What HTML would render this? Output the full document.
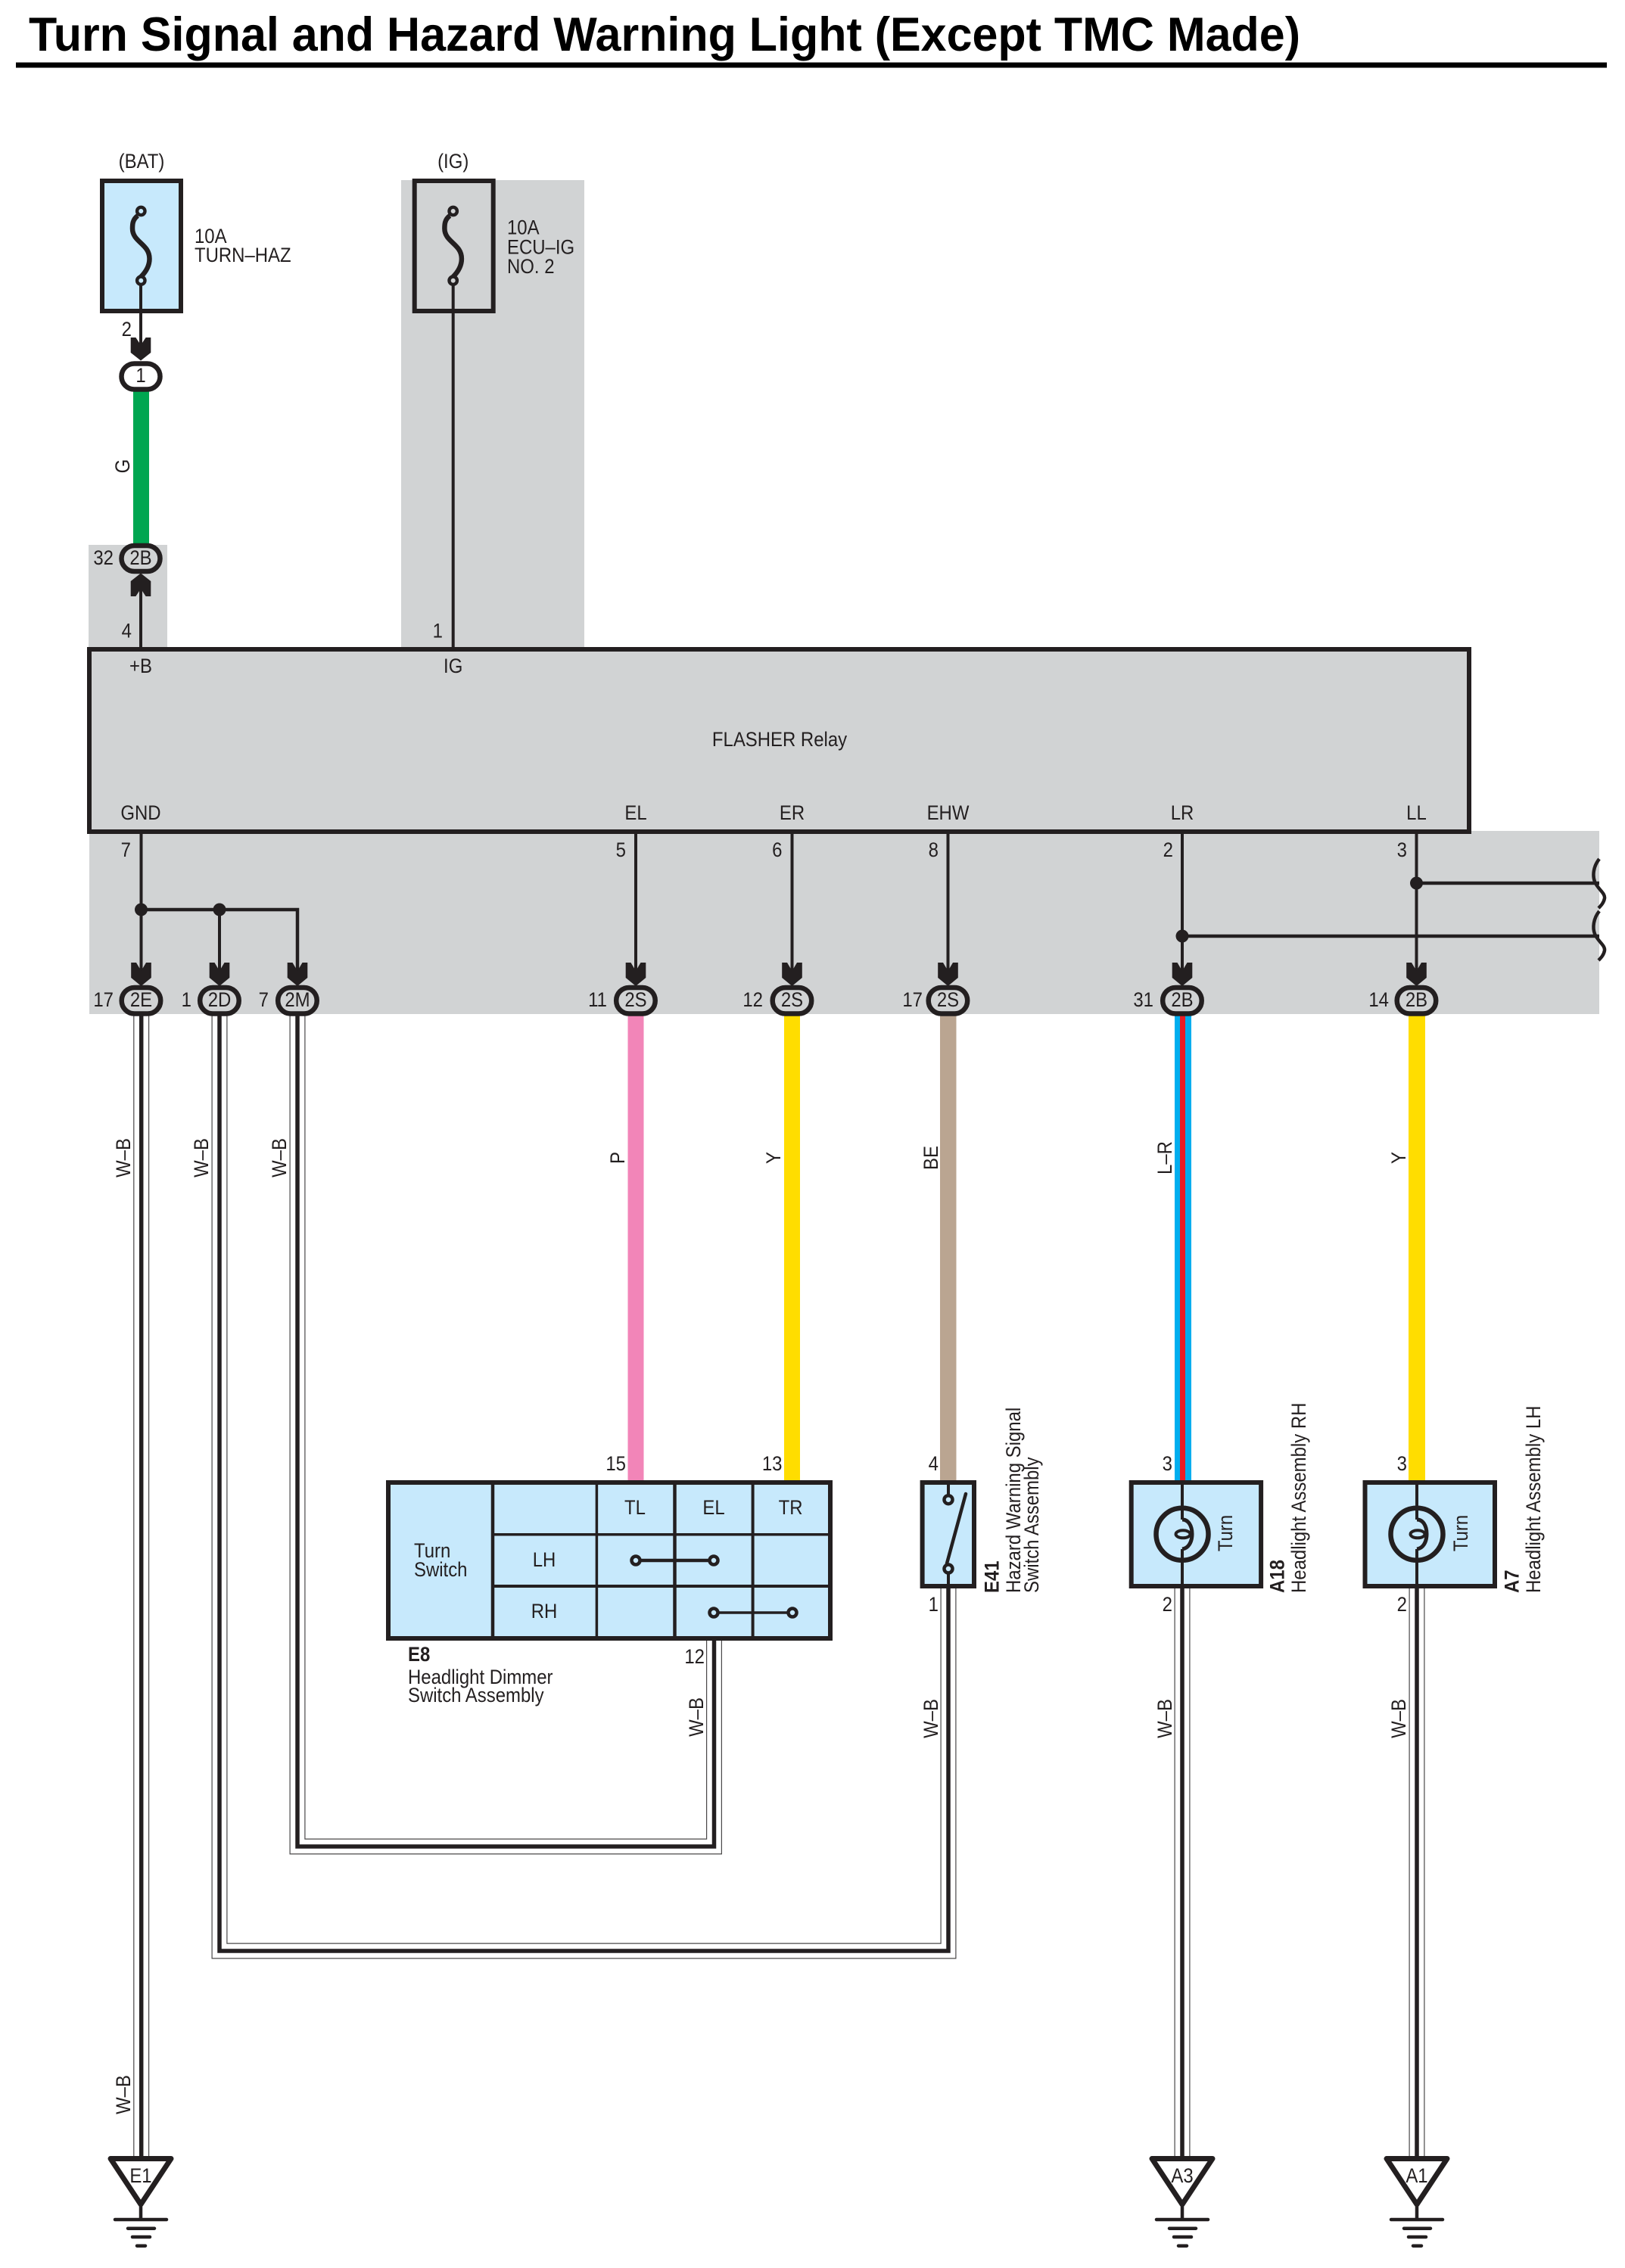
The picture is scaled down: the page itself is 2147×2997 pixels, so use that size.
<!DOCTYPE html>
<html><head><meta charset="utf-8"><style>
html,body{margin:0;padding:0;background:#fff}
svg{display:block}
text{font-family:"Liberation Sans",sans-serif;font-size:26.6px;fill:#231f20;transform-box:fill-box;transform:scaleX(.9);transform-origin:0% 50%}
.b{font-weight:bold}
.m{text-anchor:middle;transform-origin:50% 50%}
.e{text-anchor:end;transform-origin:100% 50%}
.t{transform:none;font-size:63px;fill:#000;font-weight:bold}
</style></head><body>
<svg width="2147" height="2997" viewBox="0 0 2147 2997" xmlns="http://www.w3.org/2000/svg">
<rect width="2147" height="2997" fill="#fff"/>
<text x="38" y="67" class="t" textLength="1680" lengthAdjust="spacingAndGlyphs">Turn Signal and Hazard Warning Light (Except TMC Made)</text>
<rect x="21" y="82.5" width="2102" height="7" fill="#000"/>

<!-- gray areas -->
<g fill="#d1d3d4">
<rect x="530" y="238" width="242" height="620"/>
<rect x="117" y="720" width="104" height="138"/>
<rect x="118" y="1098" width="1995" height="242"/>
</g>

<!-- coloured wires -->
<rect x="176" y="517" width="21" height="201" fill="#00a651"/>
<rect x="829.5" y="1340" width="21" height="620" fill="#f285b8"/>
<rect x="1036" y="1340" width="21" height="620" fill="#ffdd00"/>
<rect x="1242" y="1340" width="21.5" height="620" fill="#baa591"/>
<rect x="1552" y="1340" width="22" height="620" fill="#00aeef"/>
<rect x="1559" y="1340" width="7" height="620" fill="#ed1c24"/>
<rect x="1861" y="1340" width="22" height="620" fill="#ffdd00"/>

<!-- W-B wires -->
<g fill="none" stroke-linejoin="miter">
<g stroke="#4a4849" stroke-width="21">
<path d="M186.7 1340V2852"/><path d="M290 1340V2578H1253V2096"/><path d="M393 1340V2440H943.5V2165"/>
<path d="M1562 2096V2852"/><path d="M1872 2096V2852"/>
</g>
<g stroke="#fff" stroke-width="18.6">
<path d="M186.7 1340V2852"/><path d="M290 1340V2578H1253V2096"/><path d="M393 1340V2440H943.5V2165"/>
<path d="M1562 2096V2852"/><path d="M1872 2096V2852"/>
</g>
<g stroke="#231f20" stroke-width="5.5">
<path d="M186.7 1340V2852"/><path d="M290 1340V2578H1253V2096"/><path d="M393 1340V2440H943.5V2165"/>
<path d="M1562 2096V2852"/><path d="M1872 2096V2852"/>
</g>
</g>

<!-- Fuses -->
<rect x="135" y="239" width="104" height="172" fill="#c7e9fc" stroke="#231f20" stroke-width="6"/>
<rect x="547.7" y="239" width="104" height="172" fill="none" stroke="#231f20" stroke-width="6"/>
<g fill="none" stroke="#231f20">
<circle cx="186.3" cy="279" r="5.2" stroke-width="4.4"/>
<circle cx="186.3" cy="370.7" r="5.2" stroke-width="4.4"/>
<path d="M182 285C175 290 175 297 175 302C175 320 197.5 322 197.5 342C197.5 352 192 360 186 366" stroke-width="6.5"/>
<circle cx="598.7" cy="279" r="5.2" stroke-width="4.4"/>
<circle cx="598.7" cy="370.7" r="5.2" stroke-width="4.4"/>
<path d="M594.4 285C587.4 290 587.4 297 587.4 302C587.4 320 609.9 322 609.9 342C609.9 352 604.4 360 598.4 366" stroke-width="6.5"/>
</g>
<g stroke="#231f20" stroke-width="4" fill="none">
<path d="M186 377V470"/>
<path d="M598.7 377V858"/>
<path d="M186 770V858"/>
</g>

<!-- Flasher -->
<rect x="118" y="858" width="1823" height="241" fill="#d1d3d4" stroke="#231f20" stroke-width="6"/>

<!-- branch wires -->
<g stroke="#231f20" fill="none" stroke-width="4">
<path d="M186.5 1100V1290"/>
<path d="M290 1202V1290"/>
<path d="M186.5 1202H393V1290" stroke-width="4.5"/>
<path d="M840 1100V1290"/>
<path d="M1046.5 1100V1290"/>
<path d="M1252.5 1100V1290"/>
<path d="M1562 1100V1290"/>
<path d="M1871.5 1100V1290"/>
<path d="M1871.5 1167H2113" stroke-width="4.5"/>
<path d="M1562 1237H2113" stroke-width="4.5"/>
<path d="M2113 1135C2105 1145 2104 1157 2107 1165C2111 1175 2121 1180 2120 1187C2119 1193 2115 1197 2112 1200" stroke-width="4.5"/>
<path d="M2113 1204C2105 1214 2104 1226 2107 1234C2111 1244 2121 1249 2120 1256C2119 1262 2115 1266 2112 1269" stroke-width="4.5"/>
</g>
<g fill="#231f20">
<circle cx="186.5" cy="1202" r="8.5"/>
<circle cx="290" cy="1202" r="8.5"/>
<circle cx="1871.5" cy="1167" r="8.5"/>
<circle cx="1562" cy="1237" r="8.5"/>
<!-- arrows -->
<path d="M172.7 446H179.4L186 456L192.6 446H199.3V466L186 476.5L172.7 466Z"/>
<path d="M172.7 788H179.4L186 778L192.6 788H199.3V768L186 757.5L172.7 768Z"/>
<path d="M173.2 1272H180L186.5 1283L193 1272H199.8V1292L186.5 1303L173.2 1292Z"/>
<path d="M276.7 1272H283.5L290 1283L296.5 1272H303.3V1292L290 1303L276.7 1292Z"/>
<path d="M379.7 1272H386.5L393 1283L399.5 1272H406.3V1292L393 1303L379.7 1292Z"/>
<path d="M826.7 1272H833.5L840 1283L846.5 1272H853.3V1292L840 1303L826.7 1292Z"/>
<path d="M1033.2 1272H1040L1046.5 1283L1053 1272H1059.8V1292L1046.5 1303L1033.2 1292Z"/>
<path d="M1239.2 1272H1246L1252.5 1283L1259 1272H1265.8V1292L1252.5 1303L1239.2 1292Z"/>
<path d="M1548.7 1272H1555.5L1562 1283L1568.5 1272H1575.3V1292L1562 1303L1548.7 1292Z"/>
<path d="M1858.2 1272H1865L1871.5 1283L1878 1272H1884.8V1292L1871.5 1303L1858.2 1292Z"/>
</g>

<!-- connectors -->
<g stroke="#231f20" stroke-width="6.5" fill="#d1d3d4">
<rect x="160.5" y="480.5" width="51" height="34" rx="17" fill="#fff"/>
<rect x="160.5" y="721" width="51" height="34" rx="17"/>
<rect x="160.7" y="1305" width="51.5" height="34.5" rx="17"/>
<rect x="264.2" y="1305" width="51.5" height="34.5" rx="17"/>
<rect x="367.2" y="1305" width="51.5" height="34.5" rx="17"/>
<rect x="814.2" y="1305" width="51.5" height="34.5" rx="17"/>
<rect x="1020.7" y="1305" width="51.5" height="34.5" rx="17"/>
<rect x="1226.7" y="1305" width="51.5" height="34.5" rx="17"/>
<rect x="1536.2" y="1305" width="51.5" height="34.5" rx="17"/>
<rect x="1845.7" y="1305" width="51.5" height="34.5" rx="17"/>
</g>

<!-- Turn switch -->
<rect x="513" y="1959" width="584" height="206" fill="#c7e9fc" stroke="#231f20" stroke-width="6"/>
<g stroke="#231f20" fill="none">
<path d="M651 1959V2165" stroke-width="4.5"/>
<path d="M788.4 1959V2165" stroke-width="3.5"/>
<path d="M891.5 1959V2165" stroke-width="4.5"/>
<path d="M994.6 1959V2165" stroke-width="4"/>
<path d="M651 2027.7H1097" stroke-width="3.5"/>
<path d="M651 2096H1097" stroke-width="4"/>
<path d="M840 2062H943" stroke-width="4.5"/>
<path d="M943 2131H1047" stroke-width="3.5"/>
</g>
<g fill="#c7e9fc" stroke="#231f20" stroke-width="4.5">
<circle cx="840" cy="2062" r="5.5"/><circle cx="943" cy="2062" r="5.5"/>
<circle cx="943" cy="2131" r="5.5"/><circle cx="1047" cy="2131" r="5.5"/>
</g>

<!-- Hazard switch -->
<rect x="1218.6" y="1959" width="68.4" height="137" fill="#c7e9fc" stroke="#231f20" stroke-width="6"/>
<g stroke="#231f20" fill="none" stroke-width="4">
<path d="M1253 1959V1975"/>
<path d="M1253 2080V2096"/>
<circle cx="1253" cy="1981.7" r="5.5" stroke-width="4.5"/>
<circle cx="1253" cy="2073" r="5.5" stroke-width="4.5"/>
<path d="M1251 2066L1276 1974" stroke-width="4.5" stroke-linecap="round"/>
</g>

<!-- Headlights -->
<g fill="#c7e9fc" stroke="#231f20" stroke-width="6">
<rect x="1494.7" y="1959" width="171.4" height="137"/>
<rect x="1803.5" y="1959" width="171.5" height="137"/>
</g>
<g fill="none" stroke="#231f20">
<circle cx="1562" cy="2027.3" r="34.5" stroke-width="6.5"/>
<path d="M1562 1959V2008M1562 2047V2096" stroke-width="4"/>
<path d="M1562 2008C1570 2008 1575 2016 1575 2027C1575 2038 1570 2046 1562 2047" stroke-width="5"/>
<ellipse cx="1563" cy="2027.3" rx="9.5" ry="5" stroke-width="4"/>
<circle cx="1872" cy="2027.3" r="34.5" stroke-width="6.5"/>
<path d="M1872 1959V2008M1872 2047V2096" stroke-width="4"/>
<path d="M1872 2008C1880 2008 1885 2016 1885 2027C1885 2038 1880 2046 1872 2047" stroke-width="5"/>
<ellipse cx="1873" cy="2027.3" rx="9.5" ry="5" stroke-width="4"/>
</g>

<!-- Grounds -->
<g fill="#fff" stroke="#231f20" stroke-width="7" stroke-linejoin="round">
<path d="M146 2852.5H226L186 2913Z"/>
<path d="M1522 2852.5H1602L1562 2913Z"/>
<path d="M1832 2852.5H1912L1872 2913Z"/>
</g>
<g stroke="#231f20" stroke-width="4.5" stroke-linecap="round" fill="none">
<path d="M186 2916V2933M152 2933H220M169 2944.7H204M175 2956H198M181 2967.7H192"/>
<path d="M1562 2916V2933M1528 2933H1596M1545 2944.7H1580M1551 2956H1574M1557 2967.7H1568"/>
<path d="M1872 2916V2933M1838 2933H1906M1855 2944.7H1890M1861 2956H1884M1867 2967.7H1878"/>
</g>

<!-- Labels -->
<text x="187" y="222" class="m">(BAT)</text>
<text x="598.7" y="222" class="m">(IG)</text>
<text x="257" y="321">10A</text><text x="257" y="346">TURN–HAZ</text>
<text x="670" y="309.5">10A</text><text x="670" y="335.5">ECU–IG</text><text x="670" y="361">NO. 2</text>
<text x="174" y="444" class="e">2</text>
<text x="186" y="505" class="m">1</text>
<text x="186" y="746" class="m">2B</text>
<text x="150" y="746" class="e">32</text>
<text x="174" y="842.5" class="e">4</text>
<text x="585" y="842.5" class="e">1</text>
<text x="186" y="889" class="m">+B</text>
<text x="598.7" y="889" class="m">IG</text>
<text x="1030" y="986" class="m">FLASHER Relay</text>
<text x="186" y="1083" class="m">GND</text>
<text x="840" y="1083" class="m">EL</text>
<text x="1046.5" y="1083" class="m">ER</text>
<text x="1252.5" y="1083" class="m">EHW</text>
<text x="1562" y="1083" class="m">LR</text>
<text x="1871.5" y="1083" class="m">LL</text>
<text x="173" y="1132" class="e">7</text>
<text x="827" y="1132" class="e">5</text>
<text x="1033.5" y="1132" class="e">6</text>
<text x="1240" y="1132" class="e">8</text>
<text x="1550" y="1132" class="e">2</text>
<text x="1859" y="1132" class="e">3</text>
<text x="150" y="1330" class="e">17</text>
<text x="253" y="1330" class="e">1</text>
<text x="355" y="1330" class="e">7</text>
<text x="802" y="1330" class="e">11</text>
<text x="1008" y="1330" class="e">12</text>
<text x="1219" y="1330" class="e">17</text>
<text x="1524" y="1330" class="e">31</text>
<text x="1835" y="1330" class="e">14</text>
<text x="186.5" y="1330" class="m">2E</text>
<text x="290" y="1330" class="m">2D</text>
<text x="393" y="1330" class="m">2M</text>
<text x="840" y="1330" class="m">2S</text>
<text x="1046.5" y="1330" class="m">2S</text>
<text x="1252.5" y="1330" class="m">2S</text>
<text x="1562" y="1330" class="m">2B</text>
<text x="1871.5" y="1330" class="m">2B</text>

<text x="827" y="1943" class="e">15</text>
<text x="1033.5" y="1943" class="e">13</text>
<text x="1240" y="1943" class="e">4</text>
<text x="1549" y="1943" class="e">3</text>
<text x="1859" y="1943" class="e">3</text>
<text x="839" y="2001" class="m">TL</text>
<text x="943" y="2001" class="m">EL</text>
<text x="1044.6" y="2001" class="m">TR</text>
<text x="719" y="2070" class="m">LH</text>
<text x="719" y="2138" class="m">RH</text>
<text x="547" y="2058">Turn</text>
<text x="547" y="2083">Switch</text>
<text x="539" y="2195" class="b">E8</text>
<text x="539" y="2225">Headlight Dimmer</text>
<text x="539" y="2249">Switch Assembly</text>
<text x="931" y="2198" class="e">12</text>
<text x="1240" y="2129" class="e">1</text>
<text x="1549" y="2129" class="e">2</text>
<text x="1859" y="2129" class="e">2</text>
<text x="186" y="2884" class="m">E1</text>
<text x="1562" y="2884" class="m">A3</text>
<text x="1872" y="2884" class="m">A1</text>

<!-- rotated labels -->
<g transform="translate(171 616) rotate(-90)"><text class="m">G</text></g>
<g transform="translate(172 1530) rotate(-90)"><text class="m">W–B</text></g>
<g transform="translate(275 1530) rotate(-90)"><text class="m">W–B</text></g>
<g transform="translate(378 1530) rotate(-90)"><text class="m">W–B</text></g>
<g transform="translate(825 1530) rotate(-90)"><text class="m">P</text></g>
<g transform="translate(1031 1530) rotate(-90)"><text class="m">Y</text></g>
<g transform="translate(1239 1530) rotate(-90)"><text class="m">BE</text></g>
<g transform="translate(1548 1530) rotate(-90)"><text class="m">L–R</text></g>
<g transform="translate(1857 1530) rotate(-90)"><text class="m">Y</text></g>
<g transform="translate(929 2269) rotate(-90)"><text class="m">W–B</text></g>
<g transform="translate(1239 2271) rotate(-90)"><text class="m">W–B</text></g>
<g transform="translate(1548 2271) rotate(-90)"><text class="m">W–B</text></g>
<g transform="translate(1857 2271) rotate(-90)"><text class="m">W–B</text></g>
<g transform="translate(172 2768) rotate(-90)"><text class="m">W–B</text></g>
<g transform="translate(1628 2026) rotate(-90)"><text class="m">Turn</text></g>
<g transform="translate(1939 2026) rotate(-90)"><text class="m">Turn</text></g>
<g transform="translate(1319.5 2105) rotate(-90)"><text class="b">E41</text></g>
<g transform="translate(1348 2105) rotate(-90)"><text>Hazard Warning Signal</text></g>
<g transform="translate(1372 2105) rotate(-90)"><text>Switch Assembly</text></g>
<g transform="translate(1696.5 2105) rotate(-90)"><text class="b">A18</text></g>
<g transform="translate(1725 2105) rotate(-90)"><text>Headlight Assembly RH</text></g>
<g transform="translate(2006.5 2105) rotate(-90)"><text class="b">A7</text></g>
<g transform="translate(2035 2105) rotate(-90)"><text>Headlight Assembly LH</text></g>
</svg>
</body></html>
